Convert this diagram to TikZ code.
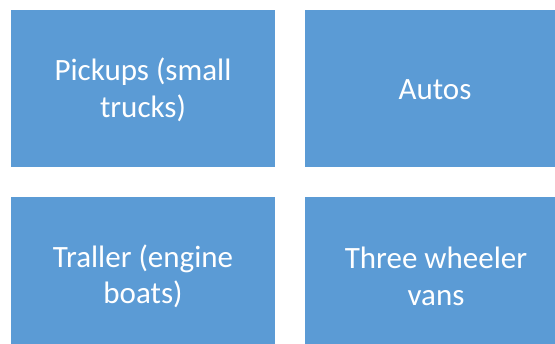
\documentclass[tikz,border=0pt]{standalone}
\usepackage{fontspec}
\setmainfont{Carlito}
\definecolor{boxblue}{HTML}{5B9BD5}
\begin{document}
\begin{tikzpicture}[x=1pt,y=-1pt,
  bluebox/.style={fill=boxblue, draw=none, text=white, align=center,
    font=\fontsize{31}{36.4}\selectfont}]
\useasboundingbox (0,0) rectangle (555,344);
\fill[boxblue] (11,10) rectangle (275,167.5);
\node[bluebox] (a) at (143,90) {Pickups (small\\trucks)};
\fill[boxblue] (304.5,10) rectangle (555,167.5);
\node[bluebox] (b) at (435,90) {Autos};
\fill[boxblue] (11,197.5) rectangle (275,344);
\node[bluebox] (c) at (143,276.5) {Traller (engine\\boats)};
\fill[boxblue] (304.5,197.5) rectangle (555,344);
\node[bluebox] (d) at (436,276.5) {Three wheeler\\vans};
\end{tikzpicture}
\end{document}
